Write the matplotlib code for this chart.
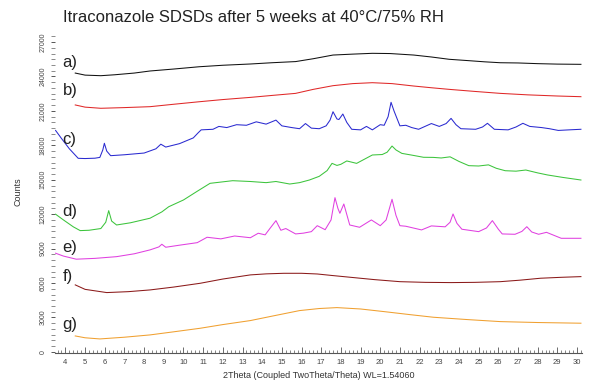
import matplotlib
matplotlib.use("Agg")
import matplotlib.pyplot as plt
from matplotlib.ticker import MultipleLocator

plt.rcParams['font.family'] = ['Liberation Sans', 'DejaVu Sans']

# scans, 2theta (deg) vs counts, each trace offset in the stack
tt_a = [4.5, 5.0, 5.8, 6.5, 7.5, 8.3, 9.5, 10.8, 12.0, 13.4, 14.5, 15.7, 16.6, 17.6, 18.6, 19.6,
        20.5, 21.7, 22.6, 23.5, 24.5, 25.3, 26.1, 27.0, 28.0, 29.0, 30.2]
cnt_a = [24300, 24120, 24070, 24150, 24300, 24480, 24650, 24850, 24980, 25090, 25200, 25300, 25550,
         25870, 25950, 26020, 26000, 25870, 25700, 25500, 25380, 25280, 25200, 25180, 25120, 25080, 25060]

tt_b = [4.5, 5.0, 5.8, 7.0, 8.3, 9.5, 10.8, 12.0, 13.4, 14.5, 15.7, 16.6, 17.6, 18.6, 19.6, 20.6,
        21.7, 22.6, 23.5, 24.8, 26.1, 27.5, 29.0, 30.2]
cnt_b = [21520, 21330, 21230, 21290, 21370, 21580, 21800, 21990, 22180, 22350, 22530, 22880, 23200,
         23380, 23460, 23380, 23170, 23020, 22880, 22700, 22530, 22400, 22300, 22240]

tt_c = [3.5, 3.8, 4.2, 4.65, 5.0, 5.5, 5.75, 5.9, 5.98, 6.1, 6.3, 7.0, 8.0, 8.6, 8.85, 9.1, 9.8,
        10.5, 10.75, 10.9, 11.5, 11.8, 12.2, 12.7, 13.2, 13.7, 14.2, 14.7, 15.0, 15.5, 15.9, 16.2,
        16.5, 16.9, 17.25, 17.45, 17.6, 17.8, 17.9, 18.1, 18.3, 18.55, 19.0, 19.3, 19.6, 20.0, 20.2,
        20.4, 20.55, 20.7, 21.0, 21.3, 21.6, 21.95, 22.6, 23.0, 23.35, 23.6, 23.85, 24.1, 24.85,
        25.2, 25.45, 25.8, 26.5, 26.9, 27.25, 27.6, 28.2, 28.6, 29.05, 29.6, 30.2]
cnt_c = [19300, 18600, 17700, 16870, 16850, 16880, 16950, 17600, 18180, 17500, 17100, 17180, 17330,
         17700, 18100, 17850, 18150, 18650, 19100, 19350, 19400, 19650, 19550, 19800, 19750, 20050,
         19850, 20200, 19700, 19550, 19450, 19900, 19500, 19450, 19700, 20200, 20930, 20300, 20250,
         20730, 20000, 19400, 19350, 19650, 19350, 19800, 19750, 20500, 21750, 21000, 19700, 19750,
         19550, 19400, 19900, 19650, 19900, 20350, 19800, 19450, 19400, 19600, 19920, 19400, 19350,
         19600, 19920, 19650, 19550, 19450, 19300, 19350, 19400]

tt_d = [3.5, 3.9, 4.4, 4.75, 5.2, 5.8, 6.05, 6.2, 6.35, 6.6, 7.3, 8.3, 8.9, 9.25, 10.0, 10.7, 11.35,
        12.5, 13.4, 14.2, 14.7, 15.4, 15.9, 16.4, 16.9, 17.3, 17.55, 17.8, 18.0, 18.3, 18.8, 19.6,
        20.1, 20.35, 20.6, 20.8, 21.1, 21.6, 22.2, 22.7, 23.1, 23.55, 24.0, 24.5, 25.0, 25.5, 25.9,
        26.35, 26.9, 27.4, 28.0, 28.5, 29.3, 30.2]
cnt_d = [12000, 11500, 10900, 10570, 10600, 10750, 11300, 12310, 11400, 11060, 11250, 11650, 12200,
         12650, 13240, 14000, 14690, 14920, 14850, 14750, 14850, 14630, 14750, 14980, 15300, 15800,
         16430, 16250, 16350, 16640, 16430, 17160, 17200, 17400, 17940, 17600, 17300, 17150, 16960,
         16950, 16900, 17000, 16600, 16230, 16200, 16300, 16000, 15790, 15750, 15850, 15600, 15420,
         15200, 14980]

tt_e = [3.5, 3.9, 4.55, 5.5, 6.6, 7.5, 8.3, 8.75, 8.9, 9.1, 9.8, 10.7, 11.2, 11.9, 12.6, 13.4, 13.8,
        14.15, 14.4, 14.7, 14.95, 15.2, 15.7, 16.1, 16.5, 16.8, 17.2, 17.5, 17.7, 17.85, 17.95, 18.15,
        18.45, 18.95, 19.55, 20.0, 20.3, 20.6, 20.8, 21.0, 21.3, 22.1, 22.6, 23.3, 23.55, 23.7, 23.9,
        24.15, 25.0, 25.4, 25.7, 26.0, 26.2, 26.85, 27.2, 27.45, 27.7, 28.05, 28.45, 29.2, 30.2]
cnt_e = [8600, 8350, 8080, 8150, 8300, 8550, 8890, 9150, 9380, 9120, 9300, 9520, 9990, 9850, 10100,
         9950, 10340, 10200, 10770, 11440, 10600, 10750, 10280, 10350, 10480, 11000, 10650, 11500,
         13440, 12500, 12080, 12890, 11060, 10860, 11500, 11000, 11500, 13300, 11900, 11000, 10950,
         10630, 10980, 10900, 11300, 12020, 11200, 10690, 10480, 10800, 11440, 10700, 10280, 10250,
         10500, 10910, 10450, 10250, 10420, 9900, 9900]

tt_f = [4.5, 5.0, 6.1, 7.2, 8.3, 9.5, 10.85, 12.0, 13.4, 14.2, 15.1, 16.0, 16.8, 17.6, 18.5, 19.7,
        21.0, 22.3, 23.6, 24.8, 26.1, 27.1, 28.15, 29.2, 30.2]
cnt_f = [5840, 5450, 5170, 5250, 5400, 5650, 5980, 6350, 6710, 6800, 6850, 6850, 6790, 6650, 6500,
         6300, 6120, 6060, 6040, 6060, 6120, 6250, 6420, 6500, 6560]

tt_g = [4.5, 5.0, 5.75, 7.0, 8.3, 9.5, 10.85, 12.0, 13.4, 14.6, 15.9, 16.9, 17.8, 19.0, 20.2, 21.5,
        22.7, 24.4, 26.1, 28.0, 30.2]
cnt_g = [1390, 1230, 1130, 1280, 1480, 1750, 2060, 2380, 2730, 3150, 3600, 3780, 3860, 3740, 3510,
         3250, 3020, 2820, 2640, 2560, 2500]

labels = ['a)', 'b)', 'c)', 'd)', 'e)', 'f)', 'g)']
label_y = [25260, 22820, 18470, 12200, 9060, 6530, 2350]
colors = ['#111111', '#e02828', '#2a2ad0', '#3cc43c', '#e040e0', '#8b1a1a', '#f0a030']

traces = [(tt_a, cnt_a), (tt_b, cnt_b), (tt_c, cnt_c), (tt_d, cnt_d),
          (tt_e, cnt_e), (tt_f, cnt_f), (tt_g, cnt_g)]

fig = plt.figure(figsize=(5.99, 3.85), dpi=100)
ax = fig.add_axes([0.0918, 0.083, 0.880, 0.8256])

for (x, y), c in zip(traces, colors):
    ax.plot(x, y, color=c, lw=0.75)

for lab, ly in zip(labels, label_y):
    ax.text(3.85, ly, lab, fontsize=12, va='center', ha='left', color='#222222')

ax.set_xlim(3.47, 30.26)
ax.set_ylim(-100, 27600)

ax.spines['top'].set_visible(False)
ax.spines['right'].set_visible(False)
ax.spines['left'].set_visible(False)
ax.spines['bottom'].set_color('#555555')
ax.spines['bottom'].set_linewidth(0.8)

ax.xaxis.set_major_locator(MultipleLocator(1))
ax.xaxis.set_minor_locator(MultipleLocator(0.2))
ax.yaxis.set_major_locator(MultipleLocator(3000))
ax.yaxis.set_minor_locator(MultipleLocator(500))

ax.tick_params(axis='x', which='major', direction='in', length=4, width=0.6,
               labelsize=5.5, colors='#555555', labelcolor='#444444', pad=4)
ax.tick_params(axis='x', which='minor', direction='in', length=2, width=0.5, colors='#555555')
ax.tick_params(axis='y', which='major', direction='out', length=3, width=0.7,
               labelsize=5, colors='#555555', labelcolor='#444444', pad=3)
ax.tick_params(axis='y', which='minor', direction='out', length=3, width=0.6, colors='#777777')
for t in ax.get_yticklabels():
    t.set_rotation(90)
    t.set_va('center')

ax.set_xlabel('2Theta (Coupled TwoTheta/Theta) WL=1.54060', fontsize=6.5, color='#333333', labelpad=4)
fig.text(18 / 599, 1 - 192 / 385, 'Counts', rotation=90, fontsize=6.5, color='#333333',
         ha='center', va='center')
fig.text(63 / 599, 1 - 17 / 385, 'Itraconazole SDSDs after 5 weeks at 40°C/75% RH',
         fontsize=12, ha='left', va='center', color='#222222')

fig.savefig('out.png', dpi=100)
